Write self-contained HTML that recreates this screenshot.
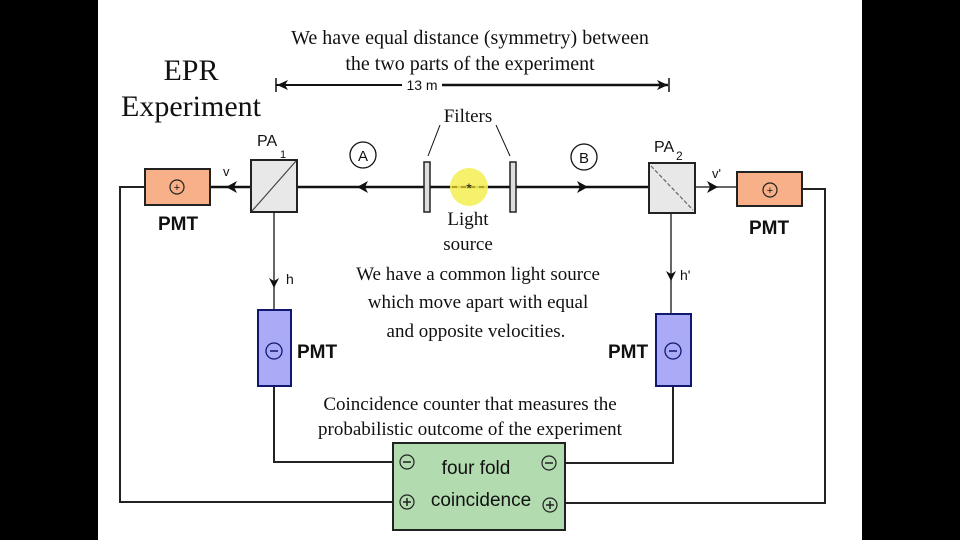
<!DOCTYPE html>
<html><head><style>
html,body{margin:0;padding:0;background:#000;}
svg{display:block}
.s{font-family:"Liberation Serif",serif;fill:#111}
.a{font-family:"Liberation Sans",sans-serif;fill:#111}
</style></head><body>
<svg width="960" height="540" viewBox="0 0 960 540" xmlns="http://www.w3.org/2000/svg">
<rect x="0" y="0" width="960" height="540" fill="#000"/>
<rect x="98" y="0" width="764" height="540" fill="#fff"/>
<!-- top text -->
<text class="s" x="470" y="44" font-size="20" text-anchor="middle">We have equal distance (symmetry) between</text>
<text class="s" x="470" y="70" font-size="20" text-anchor="middle">the two parts of the experiment</text>
<text class="s" x="191" y="80" font-size="30" text-anchor="middle">EPR</text>
<text class="s" x="191" y="116" font-size="30" text-anchor="middle">Experiment</text>
<!-- 13 m -->
<line x1="276" y1="85" x2="402" y2="85" stroke="#111" stroke-width="2"/>
<line x1="442" y1="85" x2="668" y2="85" stroke="#111" stroke-width="2.5"/>
<line x1="276" y1="78" x2="276" y2="92" stroke="#111" stroke-width="1.5"/>
<line x1="669" y1="78" x2="669" y2="92" stroke="#111" stroke-width="1.5"/>
<polygon points="277,85 288,80 285,85 288,90" fill="#111"/>
<polygon points="668,85 657,80 660,85 657,90" fill="#111"/>
<text class="a" x="422" y="90" font-size="14" text-anchor="middle">13 m</text>
<text class="s" x="468" y="122" font-size="19" text-anchor="middle">Filters</text>
<line x1="440" y1="125" x2="428" y2="156" stroke="#111" stroke-width="1"/>
<line x1="496" y1="125" x2="510" y2="156" stroke="#111" stroke-width="1"/>
<!-- wires -->
<polyline points="145,187 120,187 120,502 393,502" fill="none" stroke="#222" stroke-width="2"/>
<polyline points="802,189 825,189 825,503 565,503" fill="none" stroke="#222" stroke-width="2"/>
<line x1="210" y1="187" x2="649" y2="187" stroke="#111" stroke-width="2.5"/>
<line x1="695" y1="187" x2="737" y2="187" stroke="#333" stroke-width="1.5"/>
<polyline points="274,212 274,310" fill="none" stroke="#333" stroke-width="1.5"/>
<polyline points="274,386 274,462 393,462" fill="none" stroke="#222" stroke-width="2"/>
<polyline points="671,213 671,314" fill="none" stroke="#333" stroke-width="1.5"/>
<polyline points="673,386 673,463 565,463" fill="none" stroke="#222" stroke-width="2"/>
<!-- arrows -->
<polygon points="226,187 237,181 234,187 237,193" fill="#111"/>
<polygon points="357,187 368,181 365,187 368,193" fill="#111"/>
<polygon points="588,187 577,181 580,187 577,193" fill="#111"/>
<polygon points="718,187 707,181 710,187 707,193" fill="#111"/>
<polygon points="274,288 269,278 274,281 279,278" fill="#111"/>
<polygon points="671,281 666,271 671,274 676,271" fill="#111"/>
<text class="a" x="223" y="176" font-size="13">v</text>
<text class="a" x="712" y="178" font-size="13">v'</text>
<text class="a" x="286" y="284" font-size="14">h</text>
<text class="a" x="680" y="280" font-size="14">h'</text>
<!-- circles A, B -->
<circle cx="363" cy="155" r="13" fill="#fff" stroke="#111" stroke-width="1.3"/>
<text class="a" x="363" y="161" font-size="15" text-anchor="middle">A</text>
<circle cx="584" cy="157" r="13" fill="#fff" stroke="#111" stroke-width="1.3"/>
<text class="a" x="584" y="163" font-size="15" text-anchor="middle">B</text>
<!-- filters -->
<rect x="424" y="162" width="6" height="50" fill="#ddd" stroke="#222" stroke-width="1.5"/>
<rect x="510" y="162" width="6" height="50" fill="#ddd" stroke="#222" stroke-width="1.5"/>
<!-- light source -->
<circle cx="469" cy="187" r="19" fill="#f4f05a" opacity="0.9"/>
<line x1="452" y1="187" x2="486" y2="187" stroke="#b3a020" stroke-width="2" stroke-dasharray="5,4"/>
<text class="a" x="469" y="193" font-size="14" text-anchor="middle" fill="#887">*</text>
<text class="s" x="468" y="225" font-size="19" text-anchor="middle">Light</text>
<text class="s" x="468" y="250" font-size="19" text-anchor="middle">source</text>
<!-- PA1 -->
<rect x="251" y="160" width="46" height="52" fill="#e8e8e8" stroke="#222" stroke-width="2"/>
<line x1="252" y1="211" x2="296" y2="161" stroke="#444" stroke-width="1.2"/>
<text class="a" x="257" y="146" font-size="16">PA</text>
<text class="a" x="280" y="158" font-size="11">1</text>
<!-- PA2 -->
<rect x="649" y="163" width="46" height="50" fill="#e8e8e8" stroke="#222" stroke-width="2"/>
<line x1="651" y1="166" x2="693" y2="210" stroke="#666" stroke-width="1.2" stroke-dasharray="4,2"/>
<text class="a" x="654" y="152" font-size="16">PA</text>
<text class="a" x="676" y="160" font-size="12">2</text>
<!-- orange PMTs -->
<rect x="145" y="169" width="65" height="36" fill="#f8b088" stroke="#222" stroke-width="2"/>
<circle cx="177" cy="187" r="7" fill="none" stroke="#222" stroke-width="1.2"/>
<text class="a" x="177" y="191" font-size="11" text-anchor="middle">+</text>
<text class="a" x="178" y="230" font-size="19" font-weight="bold" text-anchor="middle">PMT</text>
<rect x="737" y="172" width="65" height="34" fill="#f8b088" stroke="#222" stroke-width="2"/>
<circle cx="770" cy="190" r="7" fill="none" stroke="#222" stroke-width="1.2"/>
<text class="a" x="770" y="194" font-size="11" text-anchor="middle">+</text>
<text class="a" x="769" y="234" font-size="19" font-weight="bold" text-anchor="middle">PMT</text>
<!-- blue PMTs -->
<rect x="258" y="310" width="33" height="76" fill="#aaaaf6" stroke="#111870" stroke-width="2"/>
<circle cx="274" cy="351" r="8" fill="none" stroke="#111870" stroke-width="1.3"/>
<line x1="270" y1="351" x2="278" y2="351" stroke="#111870" stroke-width="1.5"/>
<text class="a" x="297" y="358" font-size="19" font-weight="bold">PMT</text>
<rect x="656" y="314" width="35" height="72" fill="#aaaaf6" stroke="#111870" stroke-width="2"/>
<circle cx="673" cy="351" r="8" fill="none" stroke="#111870" stroke-width="1.3"/>
<line x1="669" y1="351" x2="677" y2="351" stroke="#111870" stroke-width="1.5"/>
<text class="a" x="608" y="358" font-size="19" font-weight="bold">PMT</text>
<!-- middle text -->
<text class="s" x="478" y="280" font-size="19" text-anchor="middle">We have a common light source</text>
<text class="s" x="478" y="308" font-size="19" text-anchor="middle">which move apart with equal</text>
<text class="s" x="476" y="337" font-size="19" text-anchor="middle">and opposite velocities.</text>
<text class="s" x="470" y="410" font-size="19" text-anchor="middle">Coincidence counter that measures the</text>
<text class="s" x="470" y="435" font-size="19" text-anchor="middle">probabilistic outcome of the experiment</text>
<!-- coincidence -->
<rect x="393" y="443" width="172" height="87" fill="#b2dcb0" stroke="#222" stroke-width="2"/>
<text class="a" x="476" y="474" font-size="19" text-anchor="middle">four fold</text>
<text class="a" x="481" y="506" font-size="19" text-anchor="middle">coincidence</text>
<g stroke="#222" stroke-width="1.2" fill="none">
<circle cx="407" cy="462" r="7"/><circle cx="549" cy="463" r="7"/>
<circle cx="407" cy="502" r="7"/><circle cx="550" cy="505" r="7"/>
</g>
<g stroke="#222" stroke-width="1.5">
<line x1="403" y1="462" x2="411" y2="462"/><line x1="545" y1="463" x2="553" y2="463"/>
<line x1="403" y1="502" x2="411" y2="502"/><line x1="407" y1="498" x2="407" y2="506"/>
<line x1="546" y1="505" x2="554" y2="505"/><line x1="550" y1="501" x2="550" y2="509"/>
</g>
</svg>
</body></html>
